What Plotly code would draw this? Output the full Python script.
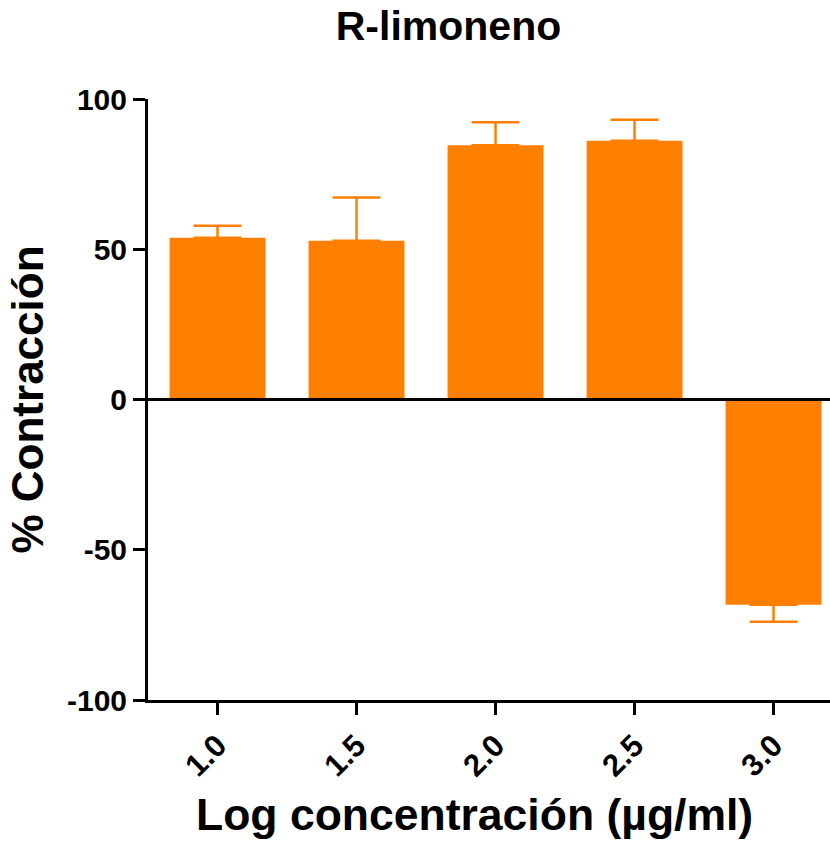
import plotly.graph_objects as go

categories = ["1.0", "1.5", "2.0", "2.5", "3.0"]
contraction = [53.8, 52.8, 84.6, 86.1, -68.3]
err_up = [4.0, 14.4, 7.7, 7.0, 0.0]
err_down = [0.0, 0.0, 0.0, 0.0, 5.7]
y_ticks = [-100, -50, 0, 50, 100]
y_ticktext = ["-100", "-50", "0", "50", "100"]

ORANGE = "#FF8000"
FONT = "Liberation Sans, Arial, Helvetica, sans-serif"

fig = go.Figure()
fig.add_trace(go.Bar(
    x=categories,
    y=contraction,
    width=0.69,
    marker=dict(color=ORANGE, line=dict(width=0)),
    error_y=dict(type="data", symmetric=False, array=err_up, arrayminus=err_down,
                 color=ORANGE, thickness=2.5, width=24),
    showlegend=False,
))

fig.add_shape(type="line", xref="paper", x0=0, x1=1, yref="y", y0=0, y1=0,
              line=dict(color="black", width=3), layer="above")

fig.add_annotation(
    text="Log concentración (µg/ml)", xref="paper", yref="paper",
    x=(474.5 - 148) / 682, xanchor="center",
    y=-(814 - 700) / 601, yanchor="middle", showarrow=False,
    font=dict(size=44.5, family=FONT, weight="bold", color="black"),
)

fig.update_layout(
    width=830, height=842,
    margin=dict(l=148, r=0, t=99, b=142),
    paper_bgcolor="white", plot_bgcolor="white",
    font=dict(family=FONT, color="black"),
    title=dict(text="R-limoneno", x=448.5 / 830, xanchor="center", xref="container",
               y=1 - 26 / 842, yanchor="middle", yref="container",
               font=dict(size=41, family=FONT, weight="bold", color="black")),
)
fig.update_xaxes(
    type="category", range=[-0.5, 4.406],
    showline=True, linecolor="black", linewidth=3,
    ticks="outside", ticklen=12, tickwidth=3, tickcolor="black",
    tickangle=-45, showgrid=False, zeroline=False,
    tickfont=dict(size=31, family=FONT, weight="bold", color="black"),
)
fig.update_yaxes(
    range=[-100, 100], tickvals=y_ticks, ticktext=y_ticktext,
    showline=True, linecolor="black", linewidth=3,
    ticks="outside", ticklen=12, tickwidth=3, tickcolor="black",
    showgrid=False, zeroline=False,
    tickfont=dict(size=30, family=FONT, weight="bold", color="black"),
    title=dict(text="% Contracción", standoff=10,
               font=dict(size=44, family=FONT, weight="bold", color="black")),
)

fig.write_html("out.html")
